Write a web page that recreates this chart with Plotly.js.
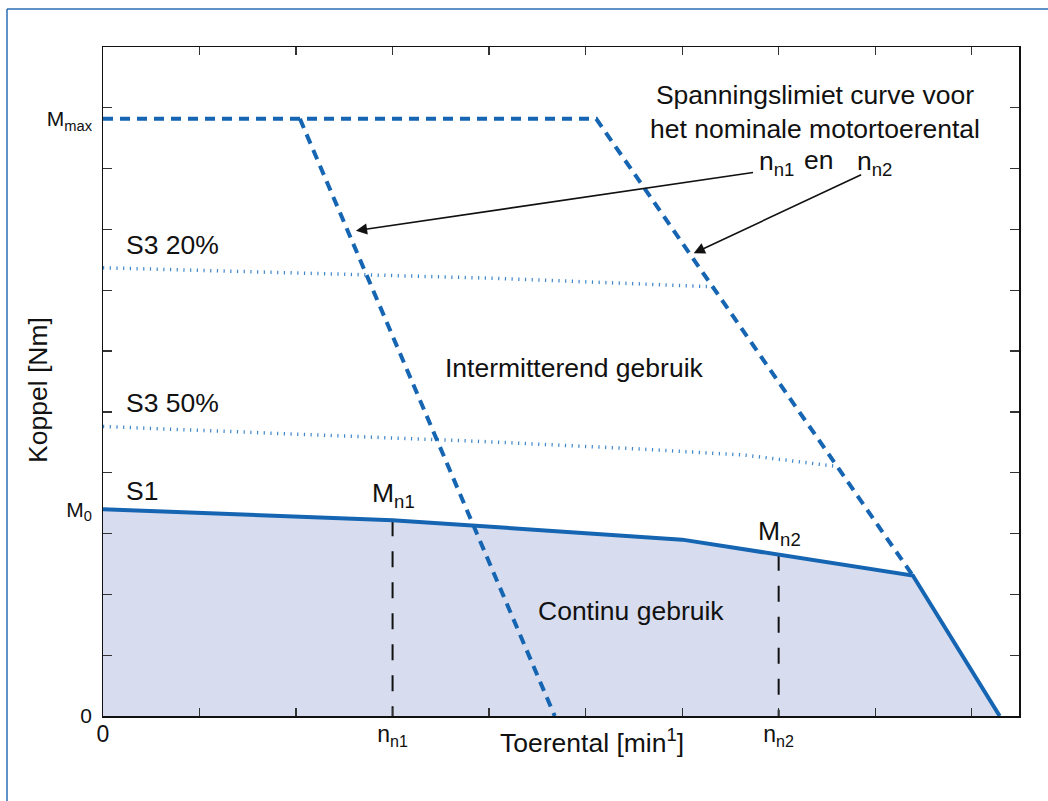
<!DOCTYPE html>
<html>
<head>
<meta charset="utf-8">
<script src="https://cdn.plot.ly/plotly-3.0.1.min.js"></script>
<style>
  html, body { margin: 0; padding: 0; background: #ffffff; }
  #chart { width: 1048px; height: 801px; }
</style>
</head>
<body>
<div id="chart"></div>
<script>
// Speed axis in tick units (n_n1 = 3, n_n2 = 7), torque axis in tick units.
const speedTicks = [0, 1, 2, 3, 4, 5, 6, 7, 8, 9];
const speedLabelVals = [0, 3, 7];
const speedLabelText = ['0', 'n<sub>n1</sub>', 'n<sub>n2</sub>'];
const torqueTicks = [0, 1, 2, 3, 4, 5, 6, 7, 8, 9, 10, 11];
const torqueLabelVals = [0, 3.40, 9.82];
const torqueLabelText = ['0', 'M<sub>0</sub>', 'M<sub>max</sub>'];

// S1 continuous duty curve
const s1Speed = [0, 3, 6.0, 8.39, 9.29];
const s1Torque = [3.40, 3.22, 2.90, 2.31, 0];

// S3 intermittent duty curves
const s3p20Speed = [0, 3.98, 6.30];
const s3p20Torque = [7.37, 7.20, 7.06];
const s3p50Speed = [0, 3.98, 5.56, 6.65, 7.62];
const s3p50Torque = [4.76, 4.51, 4.39, 4.29, 4.10];

// Voltage limit curves for the nominal speeds n_n1 and n_n2
const limitN1Speed = [2.04, 4.68];
const limitN1Torque = [9.82, 0];
const limitN2Speed = [0, 5.11, 8.38];
const limitN2Torque = [9.82, 9.82, 2.33];

// Nominal operating points
const nominalSpeed = [3, 7];
const nominalTorque = [3.22, 2.65];

const BLUE = '#1565b2';
const FONT = 'Liberation Sans, Arial, Helvetica, sans-serif';

const traces = [
  { x: s1Speed, y: s1Torque, type: 'scatter', mode: 'lines', fill: 'tozeroy',
    fillcolor: '#d7ddef', line: { width: 0, color: 'rgba(0,0,0,0)' } },
  { x: s3p20Speed, y: s3p20Torque, type: 'scatter', mode: 'lines',
    line: { color: '#3f86c8', width: 3.5, dash: '1.2px,5.5px' } },
  { x: s3p50Speed, y: s3p50Torque, type: 'scatter', mode: 'lines',
    line: { color: '#3f86c8', width: 3.5, dash: '1.2px,5.5px' } },
  { x: limitN1Speed, y: limitN1Torque, type: 'scatter', mode: 'lines',
    line: { color: BLUE, width: 4, dash: '10px,7px' } },
  { x: limitN2Speed, y: limitN2Torque, type: 'scatter', mode: 'lines',
    line: { color: BLUE, width: 4, dash: '10px,7px' } }
];

nominalSpeed.forEach((n, i) => {
  traces.push({ x: [n, n], y: [nominalTorque[i], 0], type: 'scatter', mode: 'lines',
    line: { color: '#111111', width: 2, dash: '16px,15px' } });
});

// S1 line on top, on the overlay axes that carry the named tick labels
traces.push({ x: s1Speed, y: s1Torque, type: 'scatter', mode: 'lines',
  xaxis: 'x2', yaxis: 'y2', line: { color: BLUE, width: 4 } });

const txt = (size) => ({ family: FONT, size: size, color: '#111111' });
const T = 26.5;

const annotations = [
  { x: 7.38, y: 9.93, xref: 'x', yref: 'y', showarrow: false, align: 'center',
    text: 'Spanningslimiet curve voor<br>het nominale motortoerental', font: txt(T) },
  { x: 6.78, y: 9.10, xref: 'x', yref: 'y', xanchor: 'left', showarrow: false,
    text: 'n<sub>n1</sub>', font: txt(T) },
  { x: 7.41, y: 9.14, xref: 'x', yref: 'y', showarrow: false, text: 'en', font: txt(T) },
  { x: 7.79, y: 9.10, xref: 'x', yref: 'y', xanchor: 'left', showarrow: false,
    text: 'n<sub>n2</sub>', font: txt(T) },
  { x: 2.62, y: 7.98, ax: 6.75, ay: 8.94, xref: 'x', yref: 'y', axref: 'x', ayref: 'y',
    text: '', showarrow: true, arrowhead: 2, arrowsize: 1.4, arrowwidth: 1.6, arrowcolor: '#111111' },
  { x: 6.12, y: 7.61, ax: 7.87, ay: 8.91, xref: 'x', yref: 'y', axref: 'x', ayref: 'y',
    text: '', showarrow: true, arrowhead: 2, arrowsize: 1.4, arrowwidth: 1.6, arrowcolor: '#111111' },
  { x: 0.22, y: 7.75, xref: 'x', yref: 'y', xanchor: 'left', showarrow: false,
    text: 'S3 20%', font: txt(T) },
  { x: 0.22, y: 5.15, xref: 'x', yref: 'y', xanchor: 'left', showarrow: false,
    text: 'S3 50%', font: txt(T) },
  { x: 0.22, y: 3.70, xref: 'x', yref: 'y', xanchor: 'left', showarrow: false,
    text: 'S1', font: txt(T) },
  { x: 2.77, y: 3.63, xref: 'x', yref: 'y', xanchor: 'left', showarrow: false,
    text: 'M<sub>n1</sub>', font: txt(T) },
  { x: 6.77, y: 3.01, xref: 'x', yref: 'y', xanchor: 'left', showarrow: false,
    text: 'M<sub>n2</sub>', font: txt(T) },
  { x: 3.52, y: 5.72, xref: 'x', yref: 'y', xanchor: 'left', showarrow: false,
    text: 'Intermitterend gebruik', font: txt(T) },
  { x: 5.47, y: 1.73, xref: 'x', yref: 'y', showarrow: false,
    text: 'Continu gebruik', font: txt(T) },
  { x: 5.07, y: -0.0658, xref: 'x', yref: 'paper', showarrow: false,
    text: 'Toerental [min<sup>1</sup>]', font: txt(T) },
  { x: -0.071, y: 5.36, xref: 'paper', yref: 'y', xanchor: 'center', yanchor: 'middle',
    showarrow: false, textangle: -90, text: 'Koppel [Nm]', font: txt(T) }
];

// Blue frame along the left and top edges of the figure
const frameLeft = (7 - 103) / 916;
const frameTop = (716 - 9) / 669;
const shapes = [
  { type: 'line', xref: 'paper', yref: 'paper', x0: frameLeft, x1: frameLeft,
    y0: -0.13, y1: frameTop, line: { color: '#2a6cb4', width: 1.5 } },
  { type: 'line', xref: 'paper', yref: 'paper', x0: frameLeft, x1: 1.04,
    y0: frameTop, y1: frameTop, line: { color: '#2a6cb4', width: 1.5 } }
];

const layout = {
  width: 1048,
  height: 801,
  margin: { l: 103, r: 29, t: 47, b: 85 },
  paper_bgcolor: '#ffffff',
  plot_bgcolor: '#ffffff',
  showlegend: false,
  hovermode: false,
  font: { family: FONT, color: '#111111' },
  // tick marks on all four sides
  xaxis: {
    range: [0, 9.49], tickmode: 'array', tickvals: speedTicks, showticklabels: false,
    ticks: 'inside', ticklen: 8, tickwidth: 1.2, tickcolor: '#333333',
    showline: true, linecolor: '#111111', linewidth: 1.5, mirror: 'ticks',
    showgrid: false, zeroline: false
  },
  yaxis: {
    range: [0, 11], tickmode: 'array', tickvals: torqueTicks, showticklabels: false,
    ticks: 'inside', ticklen: 9, tickwidth: 1.2, tickcolor: '#333333',
    showline: true, linecolor: '#111111', linewidth: 1.5, mirror: 'ticks',
    showgrid: false, zeroline: false
  },
  // named operating values
  xaxis2: {
    overlaying: 'x', side: 'bottom', anchor: 'y2', range: [0, 9.49],
    tickmode: 'array', tickvals: speedLabelVals, ticktext: speedLabelText,
    ticks: '', showline: false, showgrid: false, zeroline: false,
    ticklabelstandoff: 2,
    tickfont: { family: FONT, size: 23, color: '#111111' }
  },
  yaxis2: {
    overlaying: 'y', side: 'left', anchor: 'x2', range: [0, 11],
    tickmode: 'array', tickvals: torqueLabelVals, ticktext: torqueLabelText,
    ticks: '', showline: false, showgrid: false, zeroline: false,
    ticklabelstandoff: 10,
    tickfont: { family: FONT, size: 21, color: '#111111' }
  },
  annotations: annotations,
  shapes: shapes
};

Plotly.newPlot('chart', traces, layout, { staticPlot: true, displayModeBar: false });
</script>
</body>
</html>
